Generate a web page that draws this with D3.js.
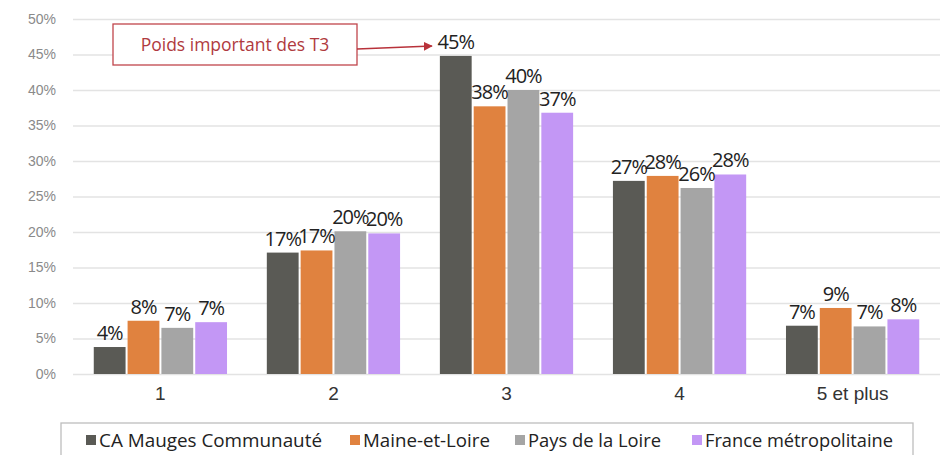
<!DOCTYPE html>
<html lang="fr">
<head>
<meta charset="UTF-8">
<title>Taille des logements</title>
<script src="https://cdn.jsdelivr.net/npm/d3@7"></script>
<style>
  body { margin: 0; background: #fff; }
  svg { display: block; font-family: "Open Sans", sans-serif; }
  .grid line { stroke: #e3e3e3; stroke-width: 1.5; }
  .grid path { display: none; }
  .yaxis text { fill: #8a8a8a; font-size: 14px; }
  .yaxis path, .yaxis line, .xaxis path, .xaxis line { display: none; }
  .xaxis text { fill: #333; font-size: 19px; }
  .val { font-size: 20px; fill: #222; letter-spacing: -1px; }
</style>
</head>
<body>
<svg width="946" height="455"></svg>
<script>
var categories = ["1", "2", "3", "4", "5 et plus"];
var seriesNames = ["CA Mauges Communauté", "Maine-et-Loire", "Pays de la Loire", "France métropolitaine"];
var caMauges = [3.8, 17.1, 44.8, 27.2, 6.8];
var maineEtLoire = [7.5, 17.4, 37.7, 27.9, 9.3];
var paysDeLaLoire = [6.5, 20.1, 40.0, 26.2, 6.7];
var franceMetro = [7.3, 19.8, 36.8, 28.1, 7.7];
var yTicks = [0, 5, 10, 15, 20, 25, 30, 35, 40, 45, 50];
var colors = ["#5a5a55", "#e0823f", "#a5a5a5", "#c397f5"];

var series = [caMauges, maineEtLoire, paysDeLaLoire, franceMetro];

var svg = d3.select("svg");
var plotLeft = 73, plotRight = 940, plotTop = 19, plotBottom = 374;

var x0 = d3.scaleBand().domain(categories).range([plotLeft, plotRight]).paddingInner(0.23).paddingOuter(0.12);
var x1 = d3.scaleBand().domain(d3.range(series.length)).range([0, x0.bandwidth()]).paddingInner(0.06);
var y = d3.scaleLinear().domain([0, 50]).range([plotBottom, plotTop]);

// grid
svg.append("g")
    .attr("class", "grid")
    .attr("transform", "translate(" + plotLeft + ",0)")
    .call(d3.axisLeft(y).tickValues(yTicks).tickSize(-(plotRight - plotLeft)).tickFormat(""));

svg.append("g")
    .attr("class", "yaxis")
    .attr("transform", "translate(" + (plotLeft - 14) + ",0)")
    .call(d3.axisLeft(y).tickValues(yTicks).tickSize(0).tickFormat(function (d) { return d + "%"; }));

svg.append("g")
    .attr("class", "xaxis")
    .attr("transform", "translate(0," + plotBottom + ")")
    .call(d3.axisBottom(x0).tickSize(0).tickPadding(13));

var rows = categories.map(function (c, i) {
    return { cat: c, vals: series.map(function (s, j) { return { j: j, v: s[i] }; }) };
});

var grp = svg.selectAll(".grp")
    .data(rows)
    .enter().append("g")
    .attr("transform", function (d) { return "translate(" + x0(d.cat) + ",0)"; });

grp.selectAll("rect")
    .data(function (d) { return d.vals; })
    .enter().append("rect")
    .attr("x", function (d) { return x1(d.j); })
    .attr("width", x1.bandwidth())
    .attr("y", function (d) { return y(d.v); })
    .attr("height", function (d) { return plotBottom - y(d.v); })
    .attr("fill", function (d) { return colors[d.j]; });

grp.selectAll("text.val")
    .data(function (d) { return d.vals; })
    .enter().append("text")
    .attr("class", "val")
    .attr("text-anchor", "middle")
    .attr("x", function (d) { return x1(d.j) + x1.bandwidth() / 2; })
    .attr("y", function (d) { return y(d.v) - 7; })
    .text(function (d) { return Math.round(d.v) + "%"; });

// annotation
var defs = svg.append("defs");
defs.append("marker")
    .attr("id", "arr")
    .attr("viewBox", "0 0 10 10")
    .attr("refX", 9).attr("refY", 5)
    .attr("markerWidth", 7).attr("markerHeight", 7)
    .attr("orient", "auto")
    .append("path").attr("d", "M0,0L10,5L0,10z").attr("fill", "#b8323a");

svg.append("rect")
    .attr("x", 113).attr("y", 24).attr("width", 244).attr("height", 41)
    .attr("fill", "#fff").attr("stroke", "#c0464c").attr("stroke-width", 1.3);
svg.append("text")
    .attr("x", 235).attr("y", 51)
    .attr("text-anchor", "middle")
    .attr("fill", "#b03a40")
    .style("font-size", "17.5px")
    .text("Poids important des T3");
svg.append("line")
    .attr("x1", 357).attr("y1", 49)
    .attr("x2", x0("3") + x1(0) - 8).attr("y2", 46)
    .attr("stroke", "#b8323a").attr("stroke-width", 1.3)
    .attr("marker-end", "url(#arr)");

// legend
svg.append("rect")
    .attr("x", 61).attr("y", 423).attr("width", 852).attr("height", 40)
    .attr("fill", "#fff").attr("stroke", "#bdbdbd").attr("stroke-width", 1.3);

var legX = [86, 350, 515, 692];
var legW = [223, 127, 133, 188];
var leg = svg.selectAll(".leg")
    .data(seriesNames)
    .enter().append("g")
    .attr("transform", function (d, i) { return "translate(" + legX[i] + ",440)"; });
leg.append("rect")
    .attr("x", 0).attr("y", -5).attr("width", 10).attr("height", 10)
    .attr("fill", function (d, i) { return colors[i]; });
leg.append("text")
    .attr("x", 13).attr("y", 7)
    .style("font-size", "18px")
    .style("font-weight", "500")
    .attr("fill", "#222")
    .attr("textLength", function (d, i) { return legW[i]; })
    .attr("lengthAdjust", "spacingAndGlyphs")
    .text(function (d) { return d; });
</script>
</body>
</html>
